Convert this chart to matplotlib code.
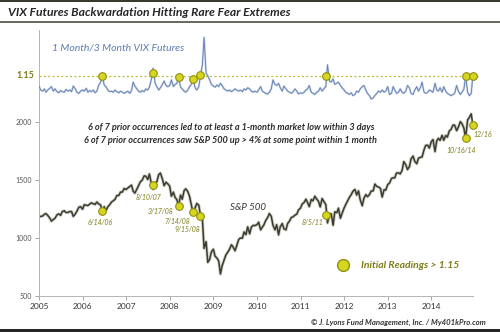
"""VIX futures backwardation vs S&P 500 (2005-2014), Excel-style recreation."""
import numpy as np
import pandas as pd
import matplotlib
matplotlib.use("Agg")
import matplotlib.pyplot as plt
import matplotlib.dates as mdates
from matplotlib.patches import Rectangle

plt.rcParams["font.family"] = ["Lato", "DejaVu Sans"]

# --- data (semi-monthly: 1st and 15th of each month) ---
DATES = pd.date_range("2005-01-01", "2014-12-15", freq="SMS")

SPX = [
    # 2005
    1190, 1185, 1190, 1205, 1210, 1195, 1172, 1145, 1160, 1170, 1200, 1208,
    1195, 1228, 1235, 1220, 1220, 1228, 1228, 1186, 1207, 1232, 1265, 1270,
    # 2006
    1248, 1287, 1282, 1280, 1291, 1303, 1295, 1289, 1310, 1294, 1285, 1230,
    1270, 1236, 1270, 1285, 1311, 1320, 1335, 1366, 1367, 1396, 1396, 1427,
    # 2007
    1418, 1431, 1445, 1456, 1403, 1387, 1421, 1452, 1486, 1497, 1536, 1532,
    1504, 1552, 1465, 1420, 1473, 1484, 1547, 1560, 1508, 1451, 1481, 1468,
    # 2008
    1447, 1360, 1395, 1349, 1331, 1276, 1370, 1334, 1409, 1424, 1400, 1360,
    1284, 1214, 1260, 1298, 1282, 1192, 1161, 910, 968, 790, 816, 880,
    # 2009
    903, 843, 826, 800, 690, 760, 811, 852, 877, 900, 942, 923,
    890, 932, 987, 1000, 998, 1052, 1029, 1096, 1036, 1093, 1109, 1107,
    # 2010
    1115, 1136, 1070, 1094, 1115, 1150, 1178, 1211, 1187, 1110, 1070, 1115,
    1027, 1096, 1125, 1079, 1070, 1125, 1146, 1176, 1184, 1197, 1206, 1242,
    # 2011
    1258, 1293, 1307, 1335, 1306, 1270, 1332, 1320, 1360, 1338, 1315, 1268,
    1340, 1316, 1287, 1130, 1204, 1209, 1110, 1225, 1218, 1257, 1170, 1212,
    # 2012
    1258, 1289, 1324, 1351, 1374, 1403, 1419, 1370, 1406, 1330, 1278, 1342,
    1374, 1356, 1375, 1405, 1406, 1465, 1445, 1440, 1427, 1353, 1416, 1413,
    # 2013
    1462, 1472, 1513, 1519, 1518, 1560, 1562, 1552, 1582, 1658, 1631, 1590,
    1614, 1682, 1706, 1661, 1640, 1688, 1695, 1698, 1761, 1798, 1800, 1775,
    # 2014
    1831, 1848, 1745, 1838, 1859, 1841, 1885, 1842, 1883, 1870, 1924, 1936,
    1973, 1973, 1925, 1955, 2003, 1985, 1946, 1862, 2018, 2039, 2070, 1975,
]

# 1-month / 3-month VIX futures ratio, in hundredths
RATIO_PCT = [
    # 2005
    97, 90, 88, 92, 86, 90, 93, 96, 88, 92, 87, 85, 89, 87, 86, 91, 88, 90, 87, 97, 92, 86, 84, 88,
    # 2006
    90, 88, 93, 86, 89, 87, 90, 85, 88, 98, 104, 116, 99, 96, 90, 87, 88, 86, 90, 87, 85, 88, 86, 84,
    # 2007
    86, 88, 84, 89, 104, 97, 92, 88, 86, 89, 87, 92, 90, 95, 110, 129, 102, 96, 90, 94, 100, 106, 98, 96,
    # 2008
    98, 108, 96, 100, 102, 113, 95, 92, 88, 86, 90, 96, 100, 109, 94, 90, 96, 117, 135, 184, 120, 115, 108, 100,
    # 2009
    97, 95, 99, 96, 102, 98, 92, 90, 88, 90, 87, 89, 92, 90, 88, 90, 87, 92, 90, 94, 92, 88, 86, 88,
    # 2010
    86, 90, 96, 88, 86, 84, 83, 86, 92, 108, 100, 98, 102, 94, 88, 97, 92, 88, 86, 84, 87, 92, 88, 83,
    # 2011
    85, 84, 86, 90, 92, 98, 86, 84, 82, 86, 88, 94, 88, 92, 96, 135, 106, 104, 110, 100, 102, 104, 98, 94,
    # 2012
    90, 86, 84, 82, 85, 80, 82, 88, 86, 92, 96, 98, 90, 84, 80, 74, 76, 80, 84, 88, 86, 90, 86, 88,
    # 2013
    96, 82, 84, 96, 90, 84, 86, 92, 86, 84, 88, 98, 94, 84, 82, 90, 96, 88, 94, 104, 86, 84, 86, 90,
    # 2014
    88, 86, 102, 90, 88, 94, 86, 96, 88, 84, 82, 80, 82, 84, 98, 88, 82, 86, 92, 116, 86, 80, 84, 115,
]

EVENT_DATES = pd.to_datetime(["2006-06-14", "2007-08-10", "2008-03-17", "2008-07-14",
                              "2008-09-15", "2011-08-05", "2014-10-16", "2014-12-16"])
EVENT_SPX = [1230, 1453, 1276, 1228, 1192, 1199, 1862, 1972]
EVENT_RATIO = [1.15, 1.20, 1.13, 1.09, 1.17, 1.15, 1.15, 1.15]
EVENT_LABELS = ["6/14/06", "8/10/07", "3/17/08", "7/14/08", "9/15/08", "8/5/11", "10/16/14", "12/16"]
# label offsets in pixels (dx, dy)
LABEL_OFFSETS = [(-2, -11), (-4, -12), (-18, -6), (-16, -10), (-13, -14), (-14, -8), (-5, -12), (10, -9)]

YEARS = list(range(2005, 2015))
SPX_TICKS = [500, 1000, 1500, 2000]
THRESHOLD = 1.15

W, H = 500, 332
OLIVE = "#7c7c18"
MK_FACE = "#d6d620"
MK_EDGE = "#8f8f10"


def fx(px):
    return px / W


def fy(py):
    return 1 - py / H


fig = plt.figure(figsize=(5.0, 3.32), dpi=100, facecolor="white")

# frame: top rule, title, rule under title, bottom bar
fig.add_artist(Rectangle((0, fy(2)), 1, 2 / H, transform=fig.transFigure, color="#3a3a2c", lw=0))
fig.add_artist(Rectangle((0, fy(23)), 1, 2 / H, transform=fig.transFigure, color="#6b6b60", lw=0))
fig.add_artist(Rectangle((0, 0), 1, 3 / H, transform=fig.transFigure, color="#262626", lw=0))
fig.text(fx(8), fy(12), "VIX Futures Backwardation Hitting Rare Fear Extremes",
         fontsize=8.7, fontweight="bold", fontstyle="italic", color="#262626", va="center")

ax = fig.add_axes([fx(39), fy(296), fx(473 - 39), (296 - 30) / H])
ax2 = ax.twinx()

x0 = pd.Timestamp("2005-01-01")
x1 = pd.Timestamp("2014-12-16")

# S&P 500 line (soft shadow + dark line)
ax.plot(DATES, SPX, color="#a9a98e", lw=2.3, alpha=0.55, solid_joinstyle="round")
ax.plot(DATES, SPX, color="#3b3b33", lw=1.1, solid_joinstyle="round")
ax.plot(EVENT_DATES, EVENT_SPX, "o", ms=5.5, mfc=MK_FACE, mec=MK_EDGE, mew=0.8, clip_on=False, zorder=5)
for d, v, lab, (dx, dy) in zip(EVENT_DATES, EVENT_SPX, EVENT_LABELS, LABEL_OFFSETS):
    ax.annotate(lab, xy=(d, v), xytext=(dx, dy), textcoords="offset pixels",
                ha="center", va="center", fontsize=5, fontstyle="italic", color=OLIVE)

ax.set_xlim(x0, x1)
ax.set_ylim(500, 2793)
ax.set_yticks(SPX_TICKS)
ax.set_yticklabels([str(t) for t in SPX_TICKS])
ax.set_xticks([pd.Timestamp(f"{y}-01-01") for y in YEARS])
ax.xaxis.set_major_formatter(mdates.DateFormatter("%Y"))
ax.tick_params(axis="y", labelsize=5, colors="#9a9a9a", labelcolor="#555555", length=3, width=0.6, pad=2)
ax.tick_params(axis="x", labelsize=6, colors="#9a9a9a", labelcolor="#333333", length=3, width=0.6, pad=2)
for s in ["top", "right"]:
    ax.spines[s].set_visible(False)
for s in ["left", "bottom"]:
    ax.spines[s].set_color("#b5b5b5")
    ax.spines[s].set_linewidth(0.7)

# VIX ratio on hidden secondary scale
ratio = np.array(RATIO_PCT) / 100.0
ax2.plot(DATES, ratio, color="#b7c6de", lw=1.6, alpha=0.6)
ax2.plot(DATES, ratio, color="#6583b4", lw=0.7)
ax2.axhline(THRESHOLD, xmin=0, xmax=(478 - 39) / (473 - 39), color="#b9b92c",
            lw=0.9, ls=(0, (1.5, 2)), clip_on=False)
ax2.plot(EVENT_DATES, EVENT_RATIO, "o", ms=5.5, mfc=MK_FACE, mec=MK_EDGE, mew=0.8, clip_on=False, zorder=5)
ax2.set_ylim(1.15 - 220 / 56, 1.15 + 46 / 56)
ax2.set_xlim(x0, x1)
ax2.set_yticks([])
for s in ax2.spines.values():
    s.set_visible(False)

fig.text(fx(34), fy(76), "1.15", fontsize=6.5, fontweight="bold", color=OLIVE, ha="right", va="center")
fig.text(fx(118), fy(48), "1 Month/3 Month VIX Futures", fontsize=7.5, fontstyle="italic",
         color="#5b7cb0", ha="center", va="center")

fig.text(fx(231), fy(128), "6 of 7 prior occurrences led to at least a 1-month market low within 3 days",
         fontsize=6.6, fontweight="bold", fontstyle="italic", color="#2a2a2a", ha="center", va="center")
fig.text(fx(231), fy(141), "6 of 7 prior occurrences saw S&P 500 up > 4% at some point within 1 month",
         fontsize=6.6, fontweight="bold", fontstyle="italic", color="#2a2a2a", ha="center", va="center")
fig.text(fx(248), fy(208), "S&P 500", fontsize=7, fontstyle="italic", color="#3a3a3a", ha="center", va="center")

# legend-like key
fig.add_artist(plt.Line2D([fx(343)], [fy(265)], marker="o", ms=8.5, mfc=MK_FACE, mec=MK_EDGE, mew=1.0,
                          transform=fig.transFigure))
fig.text(fx(361), fy(265), "Initial Readings > 1.15", fontsize=7.5, fontweight="bold", fontstyle="italic",
         color=OLIVE, ha="left", va="center")

fig.text(fx(486), fy(322), "\u00a9 J. Lyons Fund Management, Inc. / My401kPro.com", fontsize=5.6,
         fontweight="bold", fontstyle="italic", color="#333333", ha="right", va="center")

fig.savefig("out.png", dpi=100, facecolor="white")
